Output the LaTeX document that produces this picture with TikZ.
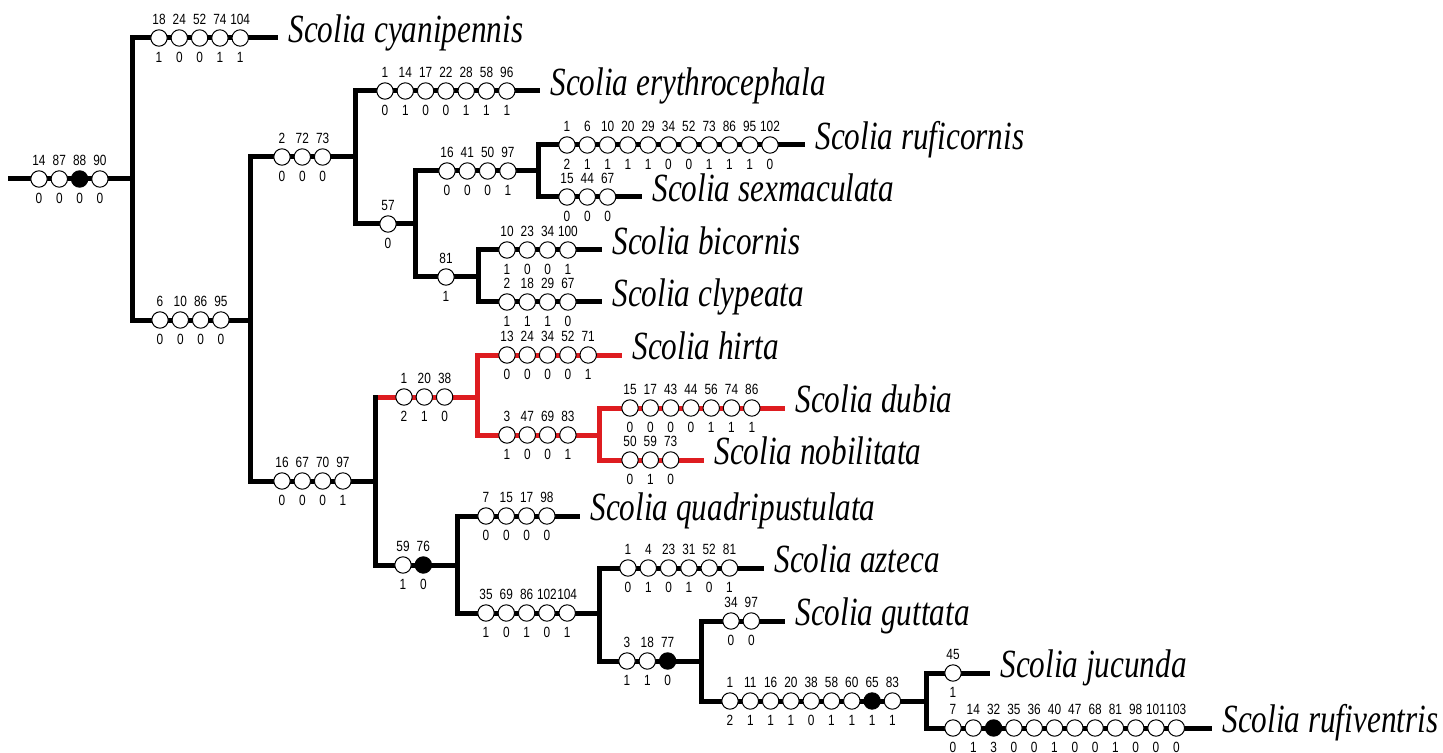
\documentclass[tikz,border=0pt]{standalone}
\usepackage{fontspec}
\setmainfont{Liberation Sans}
\newfontfamily\numfont[FakeStretch=0.8]{Liberation Sans}
\newfontfamily\taxfont[FakeStretch=0.78]{Liberation Serif}
\definecolor{cladered}{RGB}{222,28,32}
\tikzset{
  br/.style={line width=2.5pt},
  chs/.style={circle, draw, line width=0.5pt, minimum size=8.2pt, inner sep=0pt},
  num/.style={font=\numfont\fontsize{7.4}{8}\selectfont, inner sep=0pt},
  taxon/.style={font=\taxfont\itshape\fontsize{20}{22}\selectfont, anchor=west,
    inner sep=0pt, text height=0.7em, text depth=0.25em},
  tip/.style={br, shorten >=5pt}
}
% character-state markers along a branch: name prefix, x of first marker, y, list char/state/fill
\newcommand\charset[4]{%
  \foreach \c/\s/\k [count=\i from 0] in {#4}{%
    \node[chs, fill=\k] (#1-\i) at ({#2+20.3*\i},#3) {};
    \node[num] (#1-\i-a) at ({#2+20.3*\i},{#3-19}) {\c};
    \node[num] (#1-\i-b) at ({#2+20.3*\i},{#3+19}) {\s};
  }}
\begin{document}
\begin{tikzpicture}[x=0.5pt, y=-0.5pt]
\useasboundingbox (0,0) rectangle (1443,753);

% internal nodes
\coordinate (r0) at (8,179);
\coordinate (n1) at (132,179);
\coordinate (n2) at (250,320);
\coordinate (n3) at (355,157);
\coordinate (n4) at (415,224);
\coordinate (n5) at (538,171);
\coordinate (n6) at (478,277);
\coordinate (n8) at (375,481);
\coordinate (n9) at (477,397);
\coordinate (n10) at (599,435);
\coordinate (n11) at (457,565);
\coordinate (n12) at (599,613);
\coordinate (n13) at (701,661);
\coordinate (n14) at (926,701);

% terminal taxa
\node[taxon] (cya) at (288,38)  {Scolia cyanipennis};
\node[taxon] (ery) at (550,91)  {Scolia erythrocephala};
\node[taxon] (ruf) at (815,145) {Scolia ruficornis};
\node[taxon] (sex) at (652,197) {Scolia sexmaculata};
\node[taxon] (bic) at (612,250) {Scolia bicornis};
\node[taxon] (cly) at (612,302) {Scolia clypeata};
\node[taxon] (hir) at (632,355) {Scolia hirta};
\node[taxon] (dub) at (795,408) {Scolia dubia};
\node[taxon] (nob) at (714,460) {Scolia nobilitata};
\node[taxon] (qua) at (590,516) {Scolia quadripustulata};
\node[taxon] (azt) at (774,568) {Scolia azteca};
\node[taxon] (gut) at (795,621) {Scolia guttata};
\node[taxon] (juc) at (1000,673) {Scolia jucunda};
\node[taxon] (rfv) at (1222,728) {Scolia rufiventris};

% branches
\draw[br] (r0) -- (n1);
\draw[tip] (n1) |- (cya.west);
\draw[br] (n1) |- (n2);
\draw[br] (n2) |- (n3);
\draw[br] (n2) |- (n8);
\draw[tip] (n3) |- (ery.west);
\draw[br] (n3) |- (n4);
\draw[br] (n4) |- (n5);
\draw[br] (n4) |- (n6);
\draw[tip] (n5) |- (ruf.west);
\draw[tip] (n5) |- (sex.west);
\draw[tip] (n6) |- (bic.west);
\draw[tip] (n6) |- (cly.west);
\draw[br, cladered] (n8 |- n9) -- (n9);
\draw[br, line cap=rect] (n8) -- (n8 |- n9);
\draw[tip, cladered] (n9) |- (hir.west);
\draw[br, cladered] (n9) |- (n10);
\draw[tip, cladered] (n10) |- (dub.west);
\draw[tip, cladered] (n10) |- (nob.west);
\draw[br] (n8) |- (n11);
\draw[tip] (n11) |- (qua.west);
\draw[br] (n11) |- (n12);
\draw[tip] (n12) |- (azt.west);
\draw[br] (n12) |- (n13);
\draw[tip] (n13) |- (gut.west);
\draw[br] (n13) |- (n14);
\draw[tip] (n14) |- (juc.west);
\draw[tip] (n14) |- (rfv.west);

% character states
\charset{m0}{39}{179}{14/0/white, 87/0/white, 88/0/black, 90/0/white}
\charset{mcya}{159}{38}{18/1/white, 24/0/white, 52/0/white, 74/1/white, 104/1/white}
\charset{m2}{160}{320}{6/0/white, 10/0/white, 86/0/white, 95/0/white}
\charset{m3}{282}{157}{2/0/white, 72/0/white, 73/0/white}
\charset{mery}{385}{91}{1/0/white, 14/1/white, 17/0/white, 22/0/white, 28/1/white, 58/1/white, 96/1/white}
\charset{m4}{388}{224}{57/0/white}
\charset{m5}{447}{171}{16/0/white, 41/0/white, 50/0/white, 97/1/white}
\charset{mruf}{567}{145}{1/2/white, 6/1/white, 10/1/white, 20/1/white, 29/1/white, 34/0/white, 52/0/white, 73/1/white, 86/1/white, 95/1/white, 102/0/white}
\charset{msex}{567}{197}{15/0/white, 44/0/white, 67/0/white}
\charset{m6}{446}{277}{81/1/white}
\charset{mbic}{507}{250}{10/1/white, 23/0/white, 34/0/white, 100/1/white}
\charset{mcly}{507}{302}{2/1/white, 18/1/white, 29/1/white, 67/0/white}
\charset{m8}{282}{481}{16/0/white, 67/0/white, 70/0/white, 97/1/white}
\charset{m9}{404}{397}{1/2/white, 20/1/white, 38/0/white}
\charset{mhir}{507}{355}{13/0/white, 24/0/white, 34/0/white, 52/0/white, 71/1/white}
\charset{m10}{507}{435}{3/1/white, 47/0/white, 69/0/white, 83/1/white}
\charset{mdub}{630}{408}{15/0/white, 17/0/white, 43/0/white, 44/0/white, 56/1/white, 74/1/white, 86/1/white}
\charset{mnob}{630}{460}{50/0/white, 59/1/white, 73/0/white}
\charset{m11}{403}{565}{59/1/white, 76/0/black}
\charset{mqua}{486}{516}{7/0/white, 15/0/white, 17/0/white, 98/0/white}
\charset{m12}{486}{613}{35/1/white, 69/0/white, 86/1/white, 102/0/white, 104/1/white}
\charset{mazt}{628}{568}{1/0/white, 4/1/white, 23/0/white, 31/1/white, 52/0/white, 81/1/white}
\charset{m13}{627}{661}{3/1/white, 18/1/white, 77/0/black}
\charset{mgut}{731}{621}{34/0/white, 97/0/white}
\charset{m14}{730}{701}{1/2/white, 11/1/white, 16/1/white, 20/1/white, 38/0/white, 58/1/white, 60/1/white, 65/1/black, 83/1/white}
\charset{mjuc}{953}{673}{45/1/white}
\charset{mrfv}{953}{728}{7/0/white, 14/1/white, 32/3/black, 35/0/white, 36/0/white, 40/1/white, 47/0/white, 68/0/white, 81/1/white, 98/0/white, 101/0/white, 103/0/white}
\end{tikzpicture}
\end{document}
